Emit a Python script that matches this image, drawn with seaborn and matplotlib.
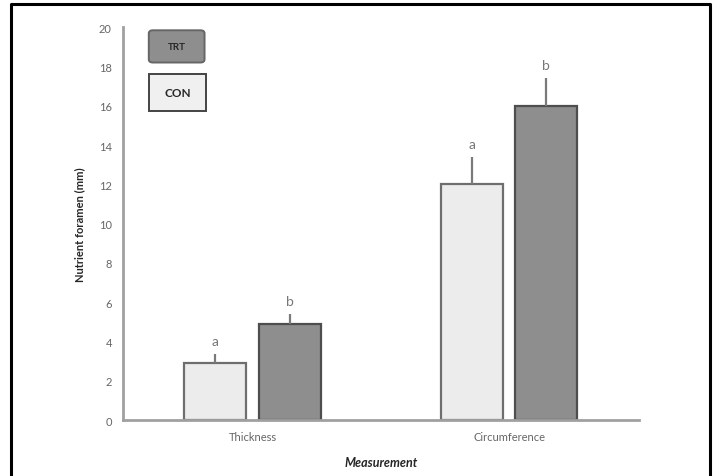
import numpy as np
import pandas as pd
import matplotlib
matplotlib.use("Agg")
import matplotlib.pyplot as plt
from matplotlib.lines import Line2D
from matplotlib.patches import FancyBboxPatch, Rectangle
import seaborn as sns

# data
measurements = ["Thickness", "Circumference"]
groups = ["CON", "TRT"]
con_means = [2.9, 12.0]
trt_means = [4.9, 16.0]
con_err = [0.45, 1.4]
trt_err = [0.5, 1.4]
con_letters = ["a", "a"]
trt_letters = ["b", "b"]
yticks = list(range(0, 21, 2))

colors = {"CON": "#ececec", "TRT": "#8e8e8e"}
edges = {"CON": "#6e6e6e", "TRT": "#4e4e4e"}

df = pd.DataFrame({
    "Measurement": measurements * 2,
    "Group": ["CON"] * 2 + ["TRT"] * 2,
    "Value": con_means + trt_means,
})

sns.set_style("white")
plt.rcParams['font.family'] = ['Lato', 'DejaVu Sans']

fig = plt.figure(figsize=(7.15, 4.77), dpi=100)
ax = fig.add_axes([0.172, 0.117, 0.722, 0.824])

sns.barplot(data=df, x="Measurement", y="Value", hue="Group", order=measurements,
            hue_order=groups, palette=colors, width=0.58, gap=0.17,
            errorbar=None, legend=False, ax=ax)

# bar edges, error bars and letters
errs = {"CON": con_err, "TRT": trt_err}
letters = {"CON": con_letters, "TRT": trt_letters}
for cont, g in zip(ax.containers, groups):
    for i, bar in enumerate(cont):
        bar.set_edgecolor(edges[g])
        bar.set_linewidth(1.6)
        xc = bar.get_x() + bar.get_width() / 2
        h = bar.get_height()
        ax.errorbar(xc, h, yerr=[[0], [errs[g][i]]], fmt="none",
                    ecolor="#7a7a7a", elinewidth=1.6, capsize=0)
        ax.text(xc, h + errs[g][i] + 0.35, letters[g][i], ha="center", va="bottom",
                fontsize=10, color="#777777")

ax.set_xlim(-0.505, 1.507)
ax.set_ylim(0, 20)
ax.set_yticks(yticks)
ax.tick_params(axis="both", length=0, labelsize=8, labelcolor="#666666", pad=8)
for s in ["top", "right"]:
    ax.spines[s].set_visible(False)
for s in ["left", "bottom"]:
    ax.spines[s].set_color("#a0a0a0")
    ax.spines[s].set_linewidth(2)

ax.set_xlabel("Measurement", fontsize=9, fontweight="bold", fontstyle="italic",
              labelpad=10)
ax.set_ylabel("Nutrient foramen (mm)", fontsize=8, fontweight="bold", labelpad=10)

# legend boxes (drawn by hand, like the original)
trt_box = FancyBboxPatch((0.050, 0.910), 0.108, 0.082, transform=ax.transAxes,
                         boxstyle="round,pad=0,rounding_size=0.008",
                         fc=colors["TRT"], ec="#666666", lw=1.4, clip_on=False)
con_box = Rectangle((0.050, 0.786), 0.111, 0.096, transform=ax.transAxes,
                    fc="#f0f0f0", ec="#444444", lw=1.4, clip_on=False)
ax.add_patch(trt_box)
ax.add_patch(con_box)
ax.text(0.104, 0.951, "TRT", transform=ax.transAxes, ha="center", va="center",
        fontsize=7, fontweight="bold")
ax.text(0.1055, 0.834, "CON", transform=ax.transAxes, ha="center", va="center",
        fontsize=8.5, fontweight="bold")

# outer frame (open at bottom)
fx0, fx1, fy1 = 11.5 / 715, 709.5 / 715, 1 - 4.5 / 477
fig.add_artist(Line2D([fx0, fx0, fx1, fx1], [-0.05, fy1, fy1, -0.05],
                      transform=fig.transFigure, color="black", lw=2.2))

fig.savefig("out.png", dpi=100)
